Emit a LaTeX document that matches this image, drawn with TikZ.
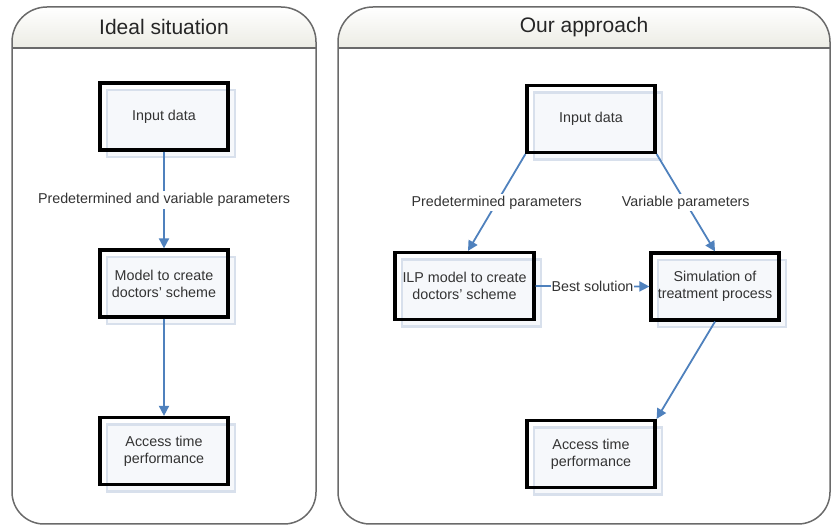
\documentclass[tikz,border=0pt]{standalone}
\usepackage{fontspec}
\setmainfont{Liberation Sans}
\usetikzlibrary{arrows.meta,shadows}
\definecolor{panelc}{HTML}{6A6A6A}
\definecolor{hdrc}{HTML}{ECECE4}
\definecolor{arrowc}{HTML}{4F81BD}
\definecolor{shadowc}{HTML}{D8E0EC}
\definecolor{shadowf}{HTML}{F6F8FB}
\begin{document}
\begin{tikzpicture}[x=1pt,y=1pt,
  panel/.style={draw=panelc,line width=1.5pt},
  hdrfill/.style={top color=white,bottom color=hdrc,draw=none},
  title/.style={font=\fontsize{21}{25}\selectfont,text=black!85},
  box/.style={draw=black,line width=3.2pt,minimum width=128pt,minimum height=67pt,
    align=center,font=\fontsize{14.3}{17}\selectfont,text=black!80,inner sep=2pt,
    general shadow={draw=shadowc,line width=2.5pt,fill=shadowf,shadow xshift=7pt,shadow yshift=-7pt}},
  conn/.style={draw=arrowc,line width=1.8pt,-{Triangle[length=10pt,width=10pt]}},
  lab/.style={fill=white,font=\fontsize{14.3}{17}\selectfont,text=black!80,inner sep=2pt}
]
\useasboundingbox (0,0) rectangle (832,527);
% ---------- left panel ----------
\path[hdrfill] (12,479) -- (12,485) arc(180:90:35) -- (281,520) arc(90:0:35) -- (316,479) -- cycle;
\draw[panel] (12,485) -- (12,35) arc(180:270:32) -- (284,3) arc(270:360:32) -- (316,485) arc(0:90:35) -- (47,520) arc(90:180:35) -- cycle;
\draw[panel] (12,479) -- (316,479);
\node[title] (t1) at (164,500) {Ideal situation};
% ---------- right panel ----------
\path[hdrfill] (338,479) -- (338,485) arc(180:90:35) -- (795,520) arc(90:0:35) -- (830,479) -- cycle;
\draw[panel] (338,485) -- (338,35) arc(180:270:32) -- (798,3) arc(270:360:32) -- (830,485) arc(0:90:35) -- (373,520) arc(90:180:35) -- cycle;
\draw[panel] (338,479) -- (830,479);
\node[title] (t2) at (584,500) {Our approach};
% ---------- left boxes ----------
\node[box] (in1) at (164,410.5) {Input data};
\node[box] (mod1) at (164,243.5) {Model to create\\doctors' scheme};
\node[box] (acc1) at (164,76) {Access time\\performance};
\draw[conn] (in1.south) -- node[lab] {Predetermined and variable parameters} (mod1.north);
\draw[conn] (mod1.south) -- (acc1.north);
% ---------- right boxes ----------
\node[box] (in2) at (591,408) {Input data};
\node[box,minimum width=139pt] (ilp) at (464.5,241) {ILP model to create\\doctors' scheme};
\node[box] (sim) at (715,240.5) {Simulation of\\treatment process};
\node[box] (acc2) at (591,73) {Access time\\performance};
\draw[conn] (in2.south west) -- node[lab] {Predetermined parameters} ([xshift=3.5pt]ilp.north);
\draw[conn] (in2.south east) -- node[lab] {Variable parameters} (sim.north);
\draw[conn] (ilp.east) -- node[lab,inner sep=1pt] {Best solution} (sim.west);
\draw[conn] (sim.south) -- (acc2.north east);
\end{tikzpicture}
\end{document}
